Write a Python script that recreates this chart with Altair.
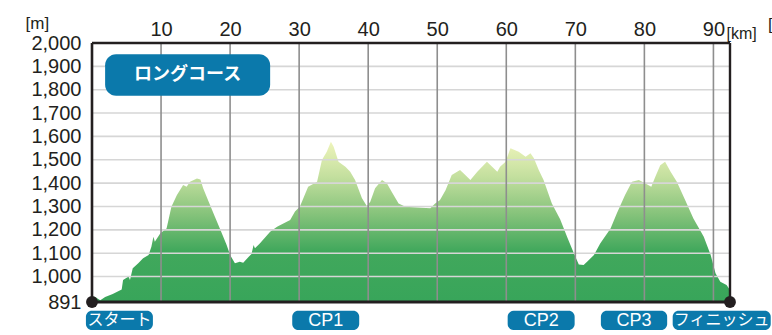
import altair as alt
import pandas as pd

# ---- elevation profile (km, metres) ----
km = [0.0, 0.4, 1.2, 1.9, 3.0, 4.3, 4.5, 5.3, 5.5, 5.9, 6.7, 7.4, 8.2, 8.6, 8.9, 9.1, 9.9,
      10.8, 11.5, 12.3, 13.2, 13.7, 14.2, 15.2, 15.7, 16.1, 16.9, 17.8, 18.8, 19.5, 20.0,
      20.7, 21.4, 21.9, 22.7, 23.1, 23.4, 23.6, 24.3, 25.8, 26.8, 28.7, 29.4, 30.1, 31.3,
      32.6, 33.3, 34.0, 34.6, 35.0, 35.7, 36.7, 37.4, 38.1, 39.1, 39.8, 40.3, 41.0, 42.0,
      42.7, 43.4, 44.4, 45.4, 47.1, 49.0, 49.7, 50.4, 51.2, 52.1, 53.3, 53.8, 54.8, 55.8,
      57.2, 58.7, 59.1, 59.9, 60.6, 61.8, 62.8, 63.5, 64.0, 64.7, 65.4, 66.6, 67.8, 68.8,
      69.8, 70.5, 71.2, 71.7, 72.7, 73.6, 75.1, 76.0, 77.2, 78.2, 79.2, 80.1, 81.0, 81.6,
      82.3, 83.0, 83.8, 84.7, 85.9, 87.1, 88.6, 89.6, 90.3, 91.0, 91.9, 92.4]
elev = [912, 914, 899, 912, 925, 945, 985, 1000, 985, 1035, 1057, 1078, 1092, 1128, 1170, 1149, 1185,
        1206, 1299, 1349, 1392, 1385, 1406, 1420, 1416, 1378, 1320, 1256, 1185, 1135, 1092,
        1057, 1063, 1059, 1085, 1096, 1135, 1121, 1142, 1192, 1213, 1242, 1278, 1299, 1385,
        1406, 1499, 1534, 1577, 1556, 1492, 1470, 1449, 1413, 1335, 1302, 1320, 1378, 1413,
        1399, 1363, 1313, 1299, 1296, 1292, 1313, 1328, 1370, 1435, 1456, 1442, 1413, 1449,
        1492, 1449, 1470, 1492, 1549, 1534, 1513, 1528, 1506, 1456, 1413, 1313, 1245, 1170,
        1099, 1052, 1049, 1063, 1092, 1142, 1206, 1270, 1349, 1406, 1413, 1399, 1385, 1428,
        1477, 1492, 1449, 1406, 1328, 1249, 1170, 1092, 1014, 978, 964, 942]

BASE = 891
TOP = 2000
TOTAL_KM = 92.4

y_ticks = [891] + list(range(1000, 2001, 100))
x_ticks = list(range(10, 100, 10))
h_grid = list(range(1000, 2000, 100))

# point labels under the profile
pt_labels = ["スタート", "CP1", "CP2", "CP3", "フィニッシュ"]
pt_km_center = [3.97, 33.85, 65.05, 78.5, 91.2]
pt_half_w = [4.85, 4.85, 4.85, 4.8, 7.1]

course_name = "ロングコース"

TXT = "#231f20"
BLUE = "#0b79ab"
FONT = "Liberation Sans"
JP = "Noto Sans CJK JP"

prof = pd.DataFrame({"km": km, "elev": elev, "base": BASE})

xs = alt.Scale(domain=[0, TOTAL_KM], nice=False, zero=False)
ys = alt.Scale(domain=[BASE, TOP], nice=False, zero=False)

X_AX = alt.Axis(
    orient="top", values=x_ticks, format="d", grid=False, ticks=False, domain=False,
    labelFontSize=20, labelPadding=4, labelFlush=False, labelOverlap=False,
    title="[km]", titleFont=FONT, titleFontSize=16, titleFontWeight="normal",
    titleColor=TXT, titleX=634, titleY=-2, titleAlign="left", titleBaseline="bottom",
    titleAngle=0)
Y_AX = alt.Axis(
    orient="left", values=y_ticks, format=",d", grid=False, ticks=False, domain=False,
    labelFontSize=20, labelPadding=11, labelFlush=False, labelOverlap=False,
    title="[m]", titleFont=FONT, titleFontSize=17, titleFontWeight="normal",
    titleColor=TXT, titleX=-67, titleY=-11, titleAlign="left", titleBaseline="bottom",
    titleAngle=0)


def X(field):
    return alt.X(field, scale=xs, axis=X_AX)


def Y(field):
    return alt.Y(field, scale=ys, axis=Y_AX)


area = alt.Chart(prof).mark_area(
    line=False,
    color=alt.Gradient(
        gradient="linear",
        x1=1, x2=1, y1=0, y2=1,
        stops=[
            alt.GradientStop(color="#eef4bb", offset=0.0),
            alt.GradientStop(color="#c3df9e", offset=0.22),
            alt.GradientStop(color="#86c37b", offset=0.45),
            alt.GradientStop(color="#41a85c", offset=0.68),
            alt.GradientStop(color="#38a55a", offset=1.0),
        ],
    ),
).encode(x=X("km:Q"), y=Y("elev:Q"), y2="base:Q")

hgrid = alt.Chart(pd.DataFrame({"v": h_grid})).mark_rule(
    color="#d6d6d6", strokeWidth=1.6).encode(y=Y("v:Q"))
vgrid = alt.Chart(pd.DataFrame({"v": x_ticks})).mark_rule(
    color="#8e8e8e", strokeWidth=1.6).encode(x=X("v:Q"))

f_left = alt.Chart(pd.DataFrame({"v": [0]})).mark_rule(strokeWidth=2.6, color=TXT).encode(x=X("v:Q"))
f_right = alt.Chart(pd.DataFrame({"v": [TOTAL_KM]})).mark_rule(strokeWidth=2.4, color=TXT).encode(x=X("v:Q"))
f_top = alt.Chart(pd.DataFrame({"v": [TOP]})).mark_rule(strokeWidth=2.4, color=TXT).encode(y=Y("v:Q"))
f_bot = alt.Chart(pd.DataFrame({"v": [BASE]})).mark_rule(strokeWidth=3.2, color=TXT).encode(y=Y("v:Q"))

dots = alt.Chart(pd.DataFrame({"km": [0, TOTAL_KM], "elev": [BASE, BASE]})).mark_circle(
    size=140, color=TXT, opacity=1).encode(x=X("km:Q"), y=Y("elev:Q"))

# course badge
badge_df = pd.DataFrame({"x0": [1.9], "x1": [25.8], "y0": [1952], "y1": [1774],
                         "xc": [13.85], "yc": [1862], "t": [course_name]})
badge = alt.Chart(badge_df).mark_rect(cornerRadius=11, color=BLUE).encode(
    x=X("x0:Q"), x2="x1:Q", y=Y("y0:Q"), y2="y1:Q")
badge_t = alt.Chart(badge_df).mark_text(
    font=JP, fontSize=18, fontWeight="bold", color="white", baseline="middle", align="center"
).encode(x=X("xc:Q"), y=Y("yc:Q"), text="t:N")

# labels under the axis
lab_df = pd.DataFrame({
    "t": pt_labels,
    "xc": pt_km_center,
    "x0": [c - h for c, h in zip(pt_km_center, pt_half_w)],
    "x1": [c + h for c, h in zip(pt_km_center, pt_half_w)],
    "y0": [854] * 5, "y1": [771] * 5, "yc": [813] * 5,
    "jp": [True, False, False, False, True],
})
lab_box = alt.Chart(lab_df).mark_rect(cornerRadius=6, color=BLUE).encode(
    x=X("x0:Q"), x2="x1:Q", y=Y("y0:Q"), y2="y1:Q")
lab_cp = alt.Chart(lab_df).transform_filter("!datum.jp").mark_text(
    font=FONT, fontSize=18, color="white", baseline="middle", align="center", dy=1
).encode(x=X("xc:Q"), y=Y("yc:Q"), text="t:N")
lab_jp = alt.Chart(lab_df).transform_filter("datum.jp").mark_text(
    font=JP, fontSize=16, color="white", baseline="middle", align="center"
).encode(x=X("xc:Q"), y=Y("yc:Q"), text="t:N")

# clipped bracket at the far right edge of the original image
edge = alt.Chart(pd.DataFrame({"t": ["["]})).mark_text(
    font=FONT, fontSize=17, color=TXT, align="left", baseline="bottom").encode(
    x=alt.value(676), y=alt.value(-9), text="t:N")

chart = alt.layer(
    area, hgrid, vgrid, f_left, f_right, f_top, f_bot, dots,
    badge, badge_t, lab_box, lab_cp, lab_jp, edge
).properties(
    width=638, height=259,
    padding={"left": 92, "top": 43, "right": 42, "bottom": 33},
    autosize=alt.AutoSizeParams(type="none"),
    background="white",
).configure_view(stroke=None).configure_axis(
    labelFont=FONT, labelColor=TXT, labelFontWeight="normal"
)

chart.save("out.html", embed_options={"renderer": "svg", "actions": False})
